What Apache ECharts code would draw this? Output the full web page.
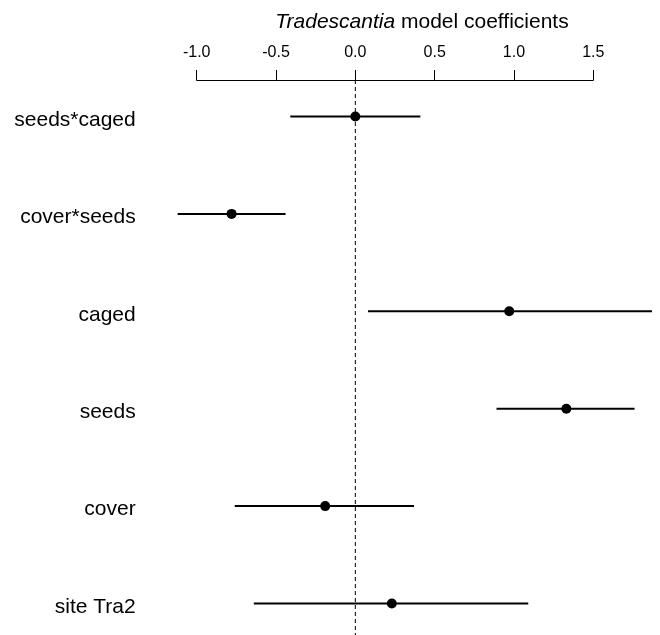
<!DOCTYPE html>
<html>
<head>
<meta charset="utf-8">
<script src="https://cdn.jsdelivr.net/npm/echarts@6/dist/echarts.min.js"></script>
<style>html,body{margin:0;padding:0;background:#fff;}#c{width:660px;height:635px;}</style>
</head>
<body>
<div id="c"></div>
<script>
var categories = ['seeds*caged', 'cover*seeds', 'caged', 'seeds', 'cover', 'site Tra2'];
var estimates = [0.0, -0.78, 0.97, 1.33, -0.19, 0.23];
var lowerCI = [-0.41, -1.12, 0.08, 0.89, -0.76, -0.64];
var upperCI = [0.41, -0.44, 1.87, 1.76, 0.37, 1.09];
var tickLabels = ['-1.0', '-0.5', '0.0', '0.5', '1.0', '1.5'];
var refLine = [[0, 0], [0, 1]];

var FONT = 'Arial, "Liberation Sans", sans-serif';
var gridLeft = 196.7, gridRight = 66.7;
var chart = echarts.init(document.getElementById('c'), null, {renderer: 'canvas'});

var ciData = categories.map(function (c, i) { return [lowerCI[i], upperCI[i], i]; });
var ptData = categories.map(function (c, i) { return [estimates[i], i]; });

chart.setOption({
  backgroundColor: '#ffffff',
  animation: false,
  title: {
    text: '{i|Tradescantia} model coefficients',
    left: 417,
    textAlign: 'center',
    top: 7,
    textStyle: {
      fontFamily: FONT, fontSize: 21, fontWeight: 'normal', color: '#000',
      rich: { i: { fontFamily: FONT, fontSize: 21, fontStyle: 'italic', color: '#000' } }
    }
  },
  grid: [
    {left: gridLeft, right: gridRight, top: 80, bottom: 0},
    {left: gridLeft, right: gridRight, top: 116.5, bottom: 31.5},
    {left: gridLeft, right: gridRight, top: 120, bottom: 28}
  ],
  xAxis: [
    {
      gridIndex: 0, type: 'value', position: 'top', min: -1, max: 1.5, interval: 0.5,
      splitLine: {show: false},
      axisLine: {show: true, onZero: false, lineStyle: {color: '#000', width: 1}},
      axisTick: {show: true, inside: false, length: 10, lineStyle: {color: '#000', width: 1}},
      axisLabel: {
        fontFamily: FONT, fontSize: 16, color: '#000', margin: 19,
        formatter: function (v) {
          var idx = Math.round((v + 1) / 0.5);
          return tickLabels[idx] !== undefined ? tickLabels[idx] : '';
        }
      }
    },
    {gridIndex: 1, type: 'value', min: -1, max: 1.5, show: false},
    {gridIndex: 2, type: 'value', min: -1, max: 1.5, show: false}
  ],
  yAxis: [
    {gridIndex: 0, type: 'value', min: 0, max: 1, show: false, inverse: true},
    {gridIndex: 1, type: 'category', data: categories, inverse: true, boundaryGap: false, show: false},
    {
      gridIndex: 2, type: 'category', data: categories, inverse: true, boundaryGap: false,
      axisLine: {show: false}, axisTick: {show: false}, splitLine: {show: false},
      axisLabel: {fontFamily: FONT, fontSize: 21, color: '#000', margin: 61, interval: 0}
    }
  ],
  series: [
    {
      type: 'line', xAxisIndex: 0, yAxisIndex: 0, data: refLine, symbol: 'none',
      lineStyle: {color: '#000', width: 1, type: [4, 3]}, silent: true
    },
    {
      type: 'custom', xAxisIndex: 1, yAxisIndex: 1, clip: false, data: ciData,
      encode: {x: [0, 1], y: 2},
      renderItem: function (params, api) {
        var a = api.coord([api.value(0), api.value(2)]);
        var b = api.coord([api.value(1), api.value(2)]);
        return {
          type: 'line',
          shape: {x1: a[0], y1: a[1], x2: b[0], y2: b[1]},
          style: {stroke: '#000', lineWidth: 2}
        };
      }
    },
    {
      type: 'scatter', xAxisIndex: 1, yAxisIndex: 1, data: ptData, clip: false,
      symbol: 'circle', symbolSize: 10, itemStyle: {color: '#000', opacity: 1},
      emphasis: {disabled: true}
    }
  ]
});
</script>
</body>
</html>
